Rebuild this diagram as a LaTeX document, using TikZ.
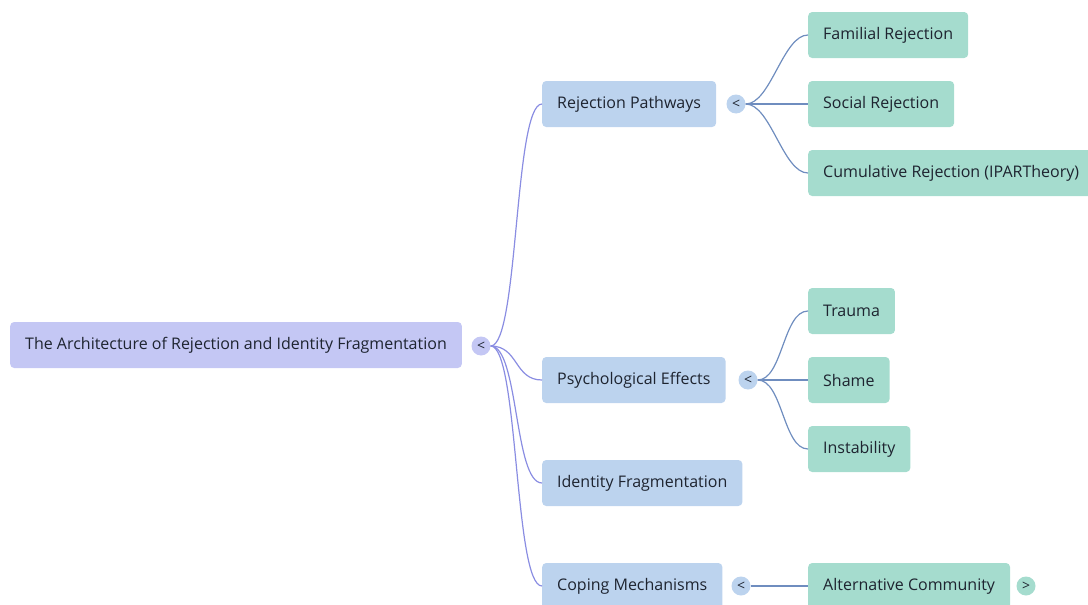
\documentclass[tikz,border=0pt]{standalone}
\usepackage{fontspec}
\setmainfont{Open Sans}
\usetikzlibrary{positioning}
\definecolor{rootfill}{HTML}{C4C7F4}
\definecolor{midfill}{HTML}{BCD3EE}
\definecolor{leaffill}{HTML}{A5DCCE}
\definecolor{rootline}{HTML}{8A8DE2}
\definecolor{midline}{HTML}{6F8DBF}
\definecolor{inktext}{HTML}{1E2430}

\begin{document}
\begin{tikzpicture}[
    x=1pt, y=-1pt,
    topic/.style={rectangle, rounded corners=4pt, anchor=west, minimum height=46pt, inner xsep=15pt, text=inktext, font=\fontsize{16}{18}\selectfont},
    rootbox/.style={topic, fill=rootfill},
    midbox/.style={topic, fill=midfill},
    leafbox/.style={topic, fill=leaffill},
    toggle/.style={circle, inner sep=0pt, minimum size=19pt, text=inktext, font=\fontsize{14}{14}\selectfont},
    rootlink/.style={rootline, line width=1.2pt},
    midlink/.style={midline, line width=1.2pt},
]
\useasboundingbox (0,0) rectangle (1088,605);

% Root and its toggle
\node[rootbox] (root) at (10,345) {The Architecture of Rejection and Identity Fragmentation};
\node[toggle, fill=rootfill] (roottog) at (481,346) {<};

% Main branches
\node[midbox] (pathways) at (542,104) {Rejection Pathways};
\node[midbox] (effects) at (542,380) {Psychological Effects};
\node[midbox] (fragment) at (542,483) {Identity Fragmentation};
\node[midbox] (coping) at (542,586) {Coping Mechanisms};

\node[toggle, fill=midfill] (pathtog) at (736,104) {<};
\node[toggle, fill=midfill] (efftog) at (748,380) {<};
\node[toggle, fill=midfill] (copetog) at (741,586) {<};

% Leaves
\node[leafbox] (familial) at (808,35) {Familial Rejection};
\node[leafbox] (social) at (808,104) {Social Rejection};
\node[leafbox] (cumulative) at (808,173) {Cumulative Rejection (IPARTheory)};
\node[leafbox] (trauma) at (808,311) {Trauma};
\node[leafbox] (shame) at (808,380) {Shame};
\node[leafbox] (instab) at (808,449) {Instability};
\node[leafbox] (altcomm) at (808,586) {Alternative Community};
\node[toggle, fill=leaffill] (alttog) at (1026,586) {>};

% Connectors from the root
\foreach \kid in {pathways, effects, fragment, coping}
    \draw[rootlink] (roottog.east) .. controls +(28,0) and +(-28,0) .. (\kid.west);

% Connectors to the leaves
\foreach \kid in {familial, social, cumulative}
    \draw[midlink] (pathtog.east) .. controls +(25,0) and +(-25,0) .. (\kid.west);
\foreach \kid in {trauma, shame, instab}
    \draw[midlink] (efftog.east) .. controls +(25,0) and +(-25,0) .. (\kid.west);
\draw[midlink] (copetog.east) -- (altcomm.west);

\end{tikzpicture}
\end{document}
